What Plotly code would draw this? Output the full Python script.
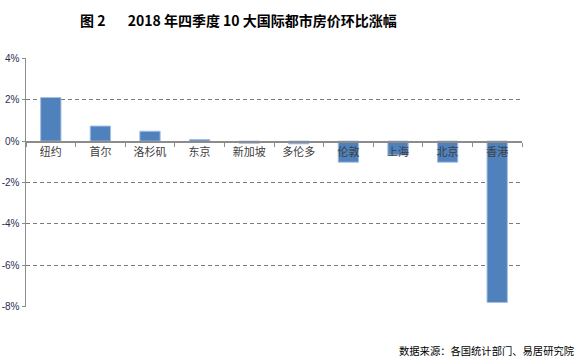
import plotly.graph_objects as go

cities = ["纽约", "首尔", "洛杉矶", "东京", "新加坡", "多伦多", "伦敦", "上海", "北京", "香港"]
changes = [2.11, 0.73, 0.48, 0.08, -0.10, -0.13, -1.02, -0.67, -1.02, -7.80]
y_ticks = [4, 2, 0, -2, -4, -6, -8]
y_tick_labels = ["4%", "2%", "0%", "-2%", "-4%", "-6%", "-8%"]
title_text = "图 2&nbsp;&nbsp;&nbsp;&nbsp;&nbsp;&nbsp;&nbsp;2018 年四季度 10 大国际都市房价环比涨幅"
source_text = "数据来源：各国统计部门、易居研究院"

ymin, ymax = -8.02, 4.02
zero_pos = (0 - ymin) / (ymax - ymin)

L, R, T, B = 26, 60, 58, 54
W, H = 582, 361
plot_w = W - L - R
plot_h = H - T - B

fig = go.Figure(go.Bar(
    x=cities, y=changes,
    marker=dict(color="#4F81BD", line=dict(color="#A7BFE0", width=1)),
    width=0.41,
))

fig.update_layout(
    width=W, height=H,
    margin=dict(l=L, r=R, t=T, b=B),
    plot_bgcolor="white", paper_bgcolor="white",
    showlegend=False,
    font=dict(family="Noto Sans CJK SC", color="#404040"),
    xaxis=dict(
        anchor="free", position=zero_pos, automargin=False,
        showline=True, linecolor="#8C8C8C", linewidth=1.5,
        ticks="outside", tickson="boundaries", ticklen=4, tickcolor="#8C8C8C",
        tickfont=dict(size=11, color="#404040", family="Noto Sans CJK SC"),
        showgrid=False, zeroline=False, fixedrange=True,
    ),
    yaxis=dict(
        range=[ymin, ymax], tickvals=y_ticks, ticktext=y_tick_labels,
        automargin=False,
        showline=True, linecolor="#8C8C8C", linewidth=1.5,
        ticks="outside", ticklen=3, tickcolor="#8C8C8C",
        showgrid=True, gridcolor="#7A7A7A", griddash="4px,3px", gridwidth=1,
        zeroline=False,
        tickfont=dict(size=10, color="#1F3050", family="Liberation Sans"),
        ticklabelstandoff=0,
    ),
    annotations=[
        dict(text="<b>" + title_text + "</b>",
             x=(238 - L) / plot_w, y=1 + (T - 20) / plot_h,
             xref="paper", yref="paper",
             showarrow=False, font=dict(size=14, color="#000000", family="Noto Sans CJK SC"),
             xanchor="center", yanchor="middle"),
        dict(text=source_text,
             x=(576 - L) / plot_w, y=-(350 - (H - B)) / plot_h,
             xref="paper", yref="paper",
             showarrow=False, font=dict(size=10.3, color="#000000", family="Noto Sans CJK SC"),
             xanchor="right", yanchor="middle"),
    ],
)

fig.write_html(
    "out.html",
    config={"displayModeBar": False, "staticPlot": True},
    post_script="document.body.style.margin='0';document.body.style.overflow='hidden';",
)
